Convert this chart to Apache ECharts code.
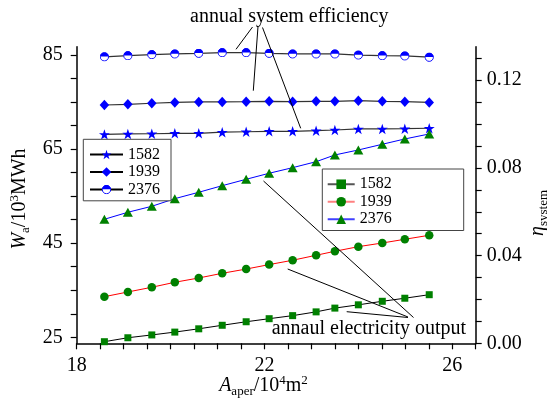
<!DOCTYPE html>
<html>
<head>
<meta charset="utf-8">
<script src="https://cdn.jsdelivr.net/npm/echarts@6/dist/echarts.min.js"></script>
<style>
  html, body { margin: 0; padding: 0; background: #fff; }
  #chart { width: 547px; height: 409px; }
</style>
</head>
<body>
<div id="chart"></div>
<script>
// Aperture area of the solar field, 10^4 m^2
const aperArea = [18.59, 19.09, 19.60, 20.09, 20.60, 21.10, 21.61, 22.10, 22.60, 23.10, 23.50, 24.00, 24.51, 24.99, 25.51];

// Annual system efficiency (right axis)
const eff1582 = [0.0953, 0.0955, 0.0956, 0.0958, 0.0958, 0.0963, 0.0965, 0.0967, 0.0967, 0.0970, 0.0973, 0.0978, 0.0978, 0.0979, 0.0981];
const eff1939 = [0.1087, 0.1090, 0.1095, 0.1099, 0.1101, 0.1101, 0.1102, 0.1104, 0.1102, 0.1104, 0.1104, 0.1107, 0.1104, 0.1102, 0.1099];
const eff2376 = [0.1307, 0.1312, 0.1317, 0.1320, 0.1323, 0.1326, 0.1326, 0.1323, 0.1320, 0.1320, 0.1320, 0.1315, 0.1312, 0.1311, 0.1305];

// Annual electricity output, 10^3 MWh (left axis)
const out1582 = [24.06, 24.90, 25.50, 26.10, 26.80, 27.55, 28.30, 28.95, 29.60, 30.40, 31.20, 31.90, 32.65, 33.30, 34.05];
const out1939 = [33.63, 34.63, 35.63, 36.69, 37.60, 38.60, 39.50, 40.45, 41.37, 42.43, 43.28, 44.26, 45.04, 45.83, 46.68];
const out2376 = [50.08, 51.57, 52.84, 54.46, 55.82, 57.22, 58.58, 59.86, 61.05, 62.32, 63.75, 64.81, 66.02, 67.15, 68.21];

// Axis ticks and labels
const xLabels = [18, 22, 26];
const leftTicks = [25, 30, 35, 40, 45, 50, 55, 60, 65, 70, 75, 80, 85];
const leftLabels = [25, 45, 65, 85];
const rightTicks = [0, 0.01, 0.02, 0.03, 0.04, 0.05, 0.06, 0.07, 0.08, 0.09, 0.10, 0.11, 0.12, 0.13];
const rightLabels = [0, 0.04, 0.08, 0.12];

const FONT = 'Liberation Serif';

const pairs = ys => aperArea.map((x, i) => [x, ys[i]]);

const starPath = 'path://M100,0L122.45,69.1L195.11,69.1L136.33,111.8L158.78,180.9L100,138.2L41.22,180.9L63.67,111.8L4.89,69.1L77.55,69.1Z';
const halfCircleSvg = "<svg xmlns='http://www.w3.org/2000/svg' width='40' height='40' viewBox='0 0 40 40'>" +
  "<circle cx='20' cy='20' r='17.5' fill='white' stroke='#0000ff' stroke-width='4'/>" +
  "<path d='M2.5,19 A17.5,17.5 0 0,1 37.5,19 Z' fill='#0000ff'/></svg>";
const halfCircle = 'image://data:image/svg+xml;charset=utf-8,' + encodeURIComponent(halfCircleSvg);

function effSeries(name, data, symbol, size, keep) {
  return {
    name, type: 'line', xAxisIndex: 0, yAxisIndex: 1,
    data: pairs(data), symbol, symbolSize: size, symbolKeepAspect: !!keep,
    showAllSymbol: true,
    itemStyle: { color: '#0000ff' },
    lineStyle: { color: '#333', width: 1.2 },
    z: 3
  };
}
function outSeries(name, data, symbol, size, lineColor) {
  return {
    name, type: 'line', xAxisIndex: 0, yAxisIndex: 0,
    data: pairs(data), symbol, symbolSize: size,
    showAllSymbol: true,
    itemStyle: { color: '#008000' },
    lineStyle: { color: lineColor, width: 1 },
    z: 3
  };
}

const chart = echarts.init(document.getElementById('chart'), null, { renderer: 'canvas' });

const axisLine = { show: true, lineStyle: { color: '#000', width: 1.5 } };
const tickStyle = { color: '#000', width: 1.2 };
const labelStyle = { color: '#000', fontFamily: FONT, fontSize: 20 };

const legendCommon = {
  orient: 'vertical',
  backgroundColor: '#fff',
  borderColor: '#444',
  borderWidth: 1,
  borderRadius: 0,
  itemGap: 1,
  itemHeight: 12,
  selectedMode: false,
  textStyle: { color: '#000', fontFamily: FONT, fontSize: 16, lineHeight: 16.5 },
  formatter: name => name.split('-')[1]
};

chart.setOption({
  animation: false,
  backgroundColor: '#fff',
  grid: { left: 76.7, right: 71.3, top: 46.7, bottom: 65.7, containLabel: false },
  xAxis: {
    type: 'value', min: 18, max: 26.5, interval: 0.5,
    axisLine,
    axisTick: { show: true, inside: false, length: 6, lineStyle: tickStyle },
    axisLabel: { ...labelStyle, margin: 12, customValues: xLabels },
    splitLine: { show: false }
  },
  yAxis: [
    {
      type: 'value', position: 'left', min: 23.72, max: 86.76,
      axisLine,
      axisTick: { show: true, inside: false, length: 6, lineStyle: tickStyle, customValues: leftTicks },
      axisLabel: { ...labelStyle, margin: 14, customValues: leftLabels },
      splitLine: { show: false }
    },
    {
      type: 'value', position: 'right', min: 0, max: 0.1353,
      axisLine,
      axisTick: { show: true, inside: false, length: 6, lineStyle: tickStyle, customValues: rightTicks },
      axisLabel: { ...labelStyle, margin: 11, customValues: rightLabels, formatter: v => v.toFixed(2) },
      splitLine: { show: false }
    }
  ],
  legend: [
    {
      ...legendCommon,
      left: 83.3, top: 139.3,
      itemWidth: 33,
      padding: [7, 11, 3, 5.7],
      data: [
        { name: 'eff-1582', lineStyle: { color: '#000' } },
        { name: 'eff-1939', lineStyle: { color: '#000' } },
        { name: 'eff-2376', lineStyle: { color: '#000' } }
      ]
    },
    {
      ...legendCommon,
      left: 322.3, top: 169,
      itemWidth: 27,
      padding: [7, 72, 3, 4.4],
      data: [
        { name: 'out-1582', lineStyle: { color: '#555' } },
        { name: 'out-1939', lineStyle: { color: '#ff8080' } },
        { name: 'out-2376', lineStyle: { color: '#4040ff' } }
      ]
    }
  ],
  series: [
    effSeries('eff-1582', eff1582, starPath, 11, true),
    effSeries('eff-1939', eff1939, 'diamond', [9.5, 10.5]),
    effSeries('eff-2376', eff2376, halfCircle, 9.5),
    outSeries('out-1582', out1582, 'rect', 7, '#000'),
    outSeries('out-1939', out1939, 'circle', 8.5, '#ff0000'),
    outSeries('out-2376', out2376, 'triangle', [10, 9], '#0000ff')
  ],
  graphic: [
    // axis titles
    {
      type: 'text', x: 20, y: 199, rotation: Math.PI / 2,
      style: {
        text: '{i|W}{sub|a}{n|/10}{sup|3}{n|MWh}',
        align: 'center', verticalAlign: 'middle', fill: '#000',
        rich: {
          i: { fontFamily: FONT, fontSize: 20, fontStyle: 'italic', lineHeight: 24 },
          n: { fontFamily: FONT, fontSize: 20, lineHeight: 24 },
          sub: { fontFamily: FONT, fontSize: 13, verticalAlign: 'bottom', lineHeight: 13 },
          sup: { fontFamily: FONT, fontSize: 13, verticalAlign: 'top', lineHeight: 13 }
        }
      }
    },
    {
      type: 'text', x: 538, y: 213, rotation: Math.PI / 2,
      style: {
        text: '{i|η}{sub|system}',
        align: 'center', verticalAlign: 'middle', fill: '#000',
        rich: {
          i: { fontFamily: FONT, fontSize: 20, fontStyle: 'italic', lineHeight: 24 },
          sub: { fontFamily: FONT, fontSize: 13, verticalAlign: 'bottom', lineHeight: 13 }
        }
      }
    },
    {
      type: 'text', x: 263.5, y: 386,
      style: {
        text: '{i|A}{sub|aper}{n|/10}{sup|4}{n|m}{sup|2}',
        align: 'center', verticalAlign: 'middle', fill: '#000',
        rich: {
          i: { fontFamily: FONT, fontSize: 20, fontStyle: 'italic', lineHeight: 24 },
          n: { fontFamily: FONT, fontSize: 20, lineHeight: 24 },
          sub: { fontFamily: FONT, fontSize: 13, verticalAlign: 'bottom', lineHeight: 13 },
          sup: { fontFamily: FONT, fontSize: 13, verticalAlign: 'top', lineHeight: 13 }
        }
      }
    },
    // callout captions
    {
      type: 'text', x: 190, y: 17,
      style: { text: 'annual system efficiency', fontFamily: FONT, fontSize: 20, fill: '#000', verticalAlign: 'middle' }
    },
    {
      type: 'text', x: 271.7, y: 328.3,
      style: { text: 'annaul electricity output', fontFamily: FONT, fontSize: 20, fill: '#000', verticalAlign: 'middle' }
    },
    // callout leader lines
    { type: 'line', shape: { x1: 252.5, y1: 27, x2: 236, y2: 49.3 }, style: { stroke: '#000', lineWidth: 1 }, z: 10 },
    { type: 'line', shape: { x1: 258, y1: 26.5, x2: 253.3, y2: 90.7 }, style: { stroke: '#000', lineWidth: 1 }, z: 10 },
    { type: 'line', shape: { x1: 262.5, y1: 27.5, x2: 300.7, y2: 128.3 }, style: { stroke: '#000', lineWidth: 1 }, z: 10 },
    { type: 'line', shape: { x1: 263.5, y1: 181, x2: 413.5, y2: 317.5 }, style: { stroke: '#000', lineWidth: 1 }, z: 10 },
    { type: 'line', shape: { x1: 287.7, y1: 269, x2: 408, y2: 317 }, style: { stroke: '#000', lineWidth: 1 }, z: 10 },
    { type: 'line', shape: { x1: 346.7, y1: 311.7, x2: 408, y2: 317.5 }, style: { stroke: '#000', lineWidth: 1 }, z: 10 }
  ]
});
</script>
</body>
</html>
